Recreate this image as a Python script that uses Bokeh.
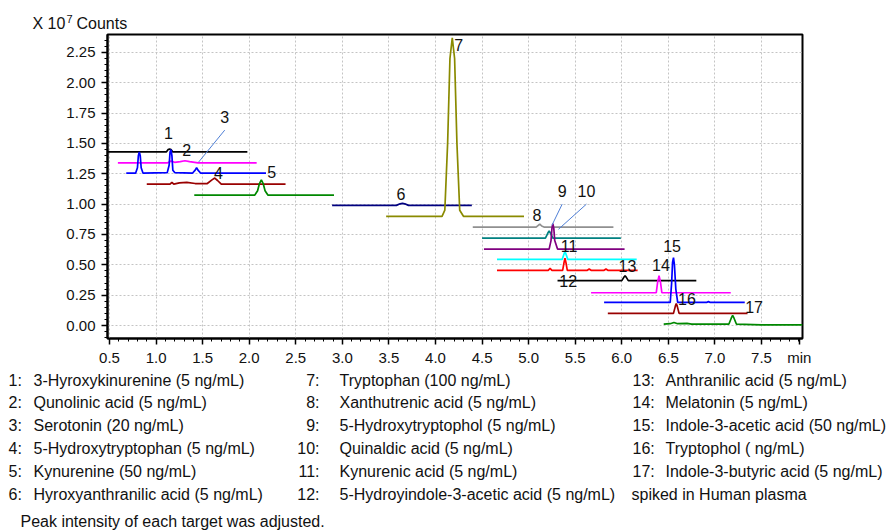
from bokeh.plotting import figure
from bokeh.models import (Range1d, SingleIntervalTicker, FixedTicker, PrintfTickFormatter,
                          ColumnDataSource)
from bokeh.embed import file_html
from bokeh.resources import INLINE
from bokeh.core.properties import value

# ---------------- data (retention time in min, intensity in x10^7 counts) ----------------
t1_x = [0.48, 1.11, 1.13, 1.145, 1.16, 1.18, 1.98]
t1_y = [1.43, 1.43, 1.45, 1.455, 1.45, 1.43, 1.43]

t2_x = [0.59, 1.12, 1.16, 1.20, 1.26, 1.31, 1.36, 1.45, 2.08]
t2_y = [1.34, 1.34, 1.355, 1.345, 1.35, 1.358, 1.35, 1.34, 1.34]

t3_x = [0.68, 0.78, 0.80, 0.81, 0.82, 0.83, 0.84, 0.86, 1.12, 1.14, 1.15, 1.16, 1.17,
        1.18, 1.20, 1.39, 1.42, 1.435, 1.45, 1.48, 2.18]
t3_y = [1.255, 1.255, 1.30, 1.40, 1.43, 1.40, 1.30, 1.255, 1.26, 1.32, 1.43, 1.45, 1.40,
        1.28, 1.26, 1.255, 1.28, 1.30, 1.28, 1.255, 1.255]

t4_x = [0.90, 1.15, 1.17, 1.19, 1.25, 1.33, 1.42, 1.55, 1.60, 1.63, 1.66, 1.70, 2.39]
t4_y = [1.165, 1.165, 1.18, 1.165, 1.175, 1.18, 1.17, 1.17, 1.20, 1.215, 1.195, 1.165, 1.165]

t5_x = [1.41, 2.06, 2.09, 2.11, 2.13, 2.15, 2.17, 2.20, 2.91]
t5_y = [1.075, 1.075, 1.11, 1.17, 1.20, 1.17, 1.11, 1.075, 1.075]

t6_x = [2.89, 3.58, 3.62, 3.645, 3.67, 3.71, 4.39]
t6_y = [0.99, 0.99, 1.003, 1.007, 1.003, 0.99, 0.99]

t7_x = [3.47, 4.07, 4.10, 4.13, 4.155, 4.18, 4.205, 4.23, 4.26, 4.30, 4.95]
t7_y = [0.90, 0.90, 0.95, 1.50, 2.20, 2.37, 2.20, 1.50, 0.95, 0.90, 0.90]

t8_x = [4.40, 5.08, 5.11, 5.12, 5.14, 5.17, 5.91]
t8_y = [0.81, 0.81, 0.83, 0.835, 0.82, 0.81, 0.81]

t9_x = [4.50, 5.18, 5.205, 5.22, 5.235, 5.26, 5.99]
t9_y = [0.72, 0.72, 0.76, 0.78, 0.76, 0.72, 0.72]

t10_x = [4.52, 5.22, 5.24, 5.25, 5.26, 5.27, 5.28, 5.31, 6.03]
t10_y = [0.63, 0.63, 0.70, 0.80, 0.84, 0.80, 0.70, 0.63, 0.63]

t11_x = [4.66, 5.36, 5.38, 5.39, 5.40, 5.42, 6.16]
t11_y = [0.545, 0.545, 0.59, 0.61, 0.59, 0.545, 0.545]

t12_x = [4.66, 5.21, 5.23, 5.25, 5.365, 5.38, 5.39, 5.40, 5.415, 5.63, 5.65, 5.67,
         5.81, 5.83, 5.85, 6.17]
t12_y = [0.455, 0.455, 0.47, 0.455, 0.455, 0.52, 0.555, 0.52, 0.455, 0.455, 0.465, 0.455,
         0.455, 0.465, 0.455, 0.455]

t13_x = [5.31, 6.00, 6.02, 6.035, 6.05, 6.07, 6.80]
t13_y = [0.37, 0.37, 0.395, 0.41, 0.395, 0.37, 0.37]

t14_x = [5.67, 6.37, 6.385, 6.40, 6.415, 6.43, 7.17]
t14_y = [0.27, 0.27, 0.36, 0.41, 0.36, 0.27, 0.27]

t15_x = [5.81, 6.52, 6.535, 6.545, 6.555, 6.565, 6.58, 6.60, 6.91, 6.93, 6.95, 7.32]
t15_y = [0.19, 0.19, 0.35, 0.52, 0.56, 0.50, 0.30, 0.19, 0.19, 0.197, 0.19, 0.19]

t16_x = [5.85, 6.555, 6.575, 6.585, 6.595, 6.615, 7.35]
t16_y = [0.10, 0.10, 0.16, 0.18, 0.16, 0.10, 0.10]

t17_x = [6.45, 6.52, 6.56, 6.60, 6.70, 6.75, 7.15, 7.175, 7.19, 7.205, 7.23, 7.50, 7.94]
t17_y = [0.012, 0.015, 0.025, 0.015, 0.018, 0.012, 0.012, 0.06, 0.083, 0.06, 0.012, 0.005, 0.005]

trace_xs = [t1_x, t2_x, t3_x, t4_x, t5_x, t6_x, t7_x, t8_x, t9_x, t10_x,
            t11_x, t12_x, t13_x, t14_x, t15_x, t16_x, t17_x]
trace_ys = [t1_y, t2_y, t3_y, t4_y, t5_y, t6_y, t7_y, t8_y, t9_y, t10_y,
            t11_y, t12_y, t13_y, t14_y, t15_y, t16_y, t17_y]
trace_colors = ["#000000", "#ff00ff", "#0000ff", "#990000", "#008800", "#000080",
                "#8a8a00", "#909090", "#008080", "#800080", "#00ffff", "#ff0000",
                "#000000", "#ff00ff", "#0000ff", "#990000", "#008800"]

peak_labels = [str(i) for i in range(1, 18)]
peak_label_x = [1.134, 1.33, 1.737, 1.67, 2.24, 3.63, 4.25, 5.09, 5.36, 5.62,
                5.435, 5.425, 6.06, 6.42, 6.54, 6.70, 7.42]
peak_label_y = [1.587, 1.446, 1.72, 1.256, 1.264, 1.083, 2.31, 0.91, 1.107, 1.107,
                0.653, 0.364, 0.49, 0.496, 0.653, 0.215, 0.149]

leader_x0 = [1.737, 5.36, 5.62]
leader_y0 = [1.61, 1.00, 1.00]
leader_x1 = [1.457, 5.25, 5.32]
leader_y1 = [1.347, 0.826, 0.793]

x_ticks = [0.5, 1.0, 1.5, 2.0, 2.5, 3.0, 3.5, 4.0, 4.5, 5.0, 5.5, 6.0, 6.5, 7.0, 7.5]
x_unit_pos = 7.906   # where the "min" unit text sits on the time axis
y_ticks_interval = 0.25

legend_col1_nums = ["1:", "2:", "3:", "4:", "5:", "6:"]
legend_col1_names = ["3-Hyroxykinurenine (5 ng/mL)", "Qunolinic acid (5 ng/mL)",
                     "Serotonin (20 ng/mL)", "5-Hydroxytryptophan (5 ng/mL)",
                     "Kynurenine (50 ng/mL)", "Hyroxyanthranilic acid (5 ng/mL)"]
legend_col2_nums = ["7:", "8:", "9:", "10:", "11:", "12:"]
legend_col2_names = ["Tryptophan (100 ng/mL)", "Xanthutrenic acid (5 ng/mL)",
                     "5-Hydroxytryptophol (5 ng/mL)", "Quinaldic acid (5 ng/mL)",
                     "Kynurenic acid (5 ng/mL)", "5-Hydroyindole-3-acetic acid (5 ng/mL)"]
legend_col3_nums = ["13:", "14:", "15:", "16:", "17:", ""]
legend_col3_names = ["Anthranilic acid (5 ng/mL)", "Melatonin (5 ng/mL)",
                     "Indole-3-acetic acid (50 ng/mL)", "Tryptophol ( ng/mL)",
                     "Indole-3-butyric acid (5 ng/mL)", "spiked in Human plasma"]
note_text = "Peak intensity of each target was adjusted."
y_unit_parts = ["X 10", "7", "Counts"]
x_unit_text = "min"

FONT = "Liberation Sans"
W = 886


def text_canvas(h, top):
    """A bare figure whose data coordinates equal page pixels (x right, y down)."""
    f = figure(width=W, height=h, x_range=Range1d(0, W), y_range=Range1d(top + h, top),
               output_backend="svg", toolbar_location=None, title=None,
               min_border_left=0, min_border_right=0, min_border_top=0, min_border_bottom=0)
    f.axis.visible = False
    f.grid.visible = False
    f.outline_line_color = None
    f.background_fill_color = "white"
    f.border_fill_color = "white"
    return f


# ---------------- head strip: "X 10^7 Counts" ----------------
HEAD_H = 32
h = text_canvas(HEAD_H, 0)
h.text(x=[32, 76], y=[23, 23], text=[y_unit_parts[0], y_unit_parts[2]],
       text_baseline="middle", text_align="left", text_font=value(FONT),
       text_font_size="16px", text_color="#111111")
h.text(x=[66], y=[18], text=[y_unit_parts[1]], text_baseline="middle", text_align="left",
       text_font=value(FONT), text_font_size="11px", text_color="#111111")

# ---------------- chart figure ----------------
X0, X1 = 0.4785, 7.94
Y0, Y1 = -0.107, 2.398
CH = 338   # chart spans page y 32..370; frame page y 34..338
p = figure(width=W, height=CH, title=None,
           x_range=Range1d(X0, X1), y_range=Range1d(Y0, Y1),
           output_backend="svg", toolbar_location=None,
           min_border_left=107, min_border_right=W - 802, min_border_top=2,
           min_border_bottom=CH - 306)
p.background_fill_color = "white"
p.border_fill_color = "white"
p.outline_line_color = "black"
p.outline_line_width = 2

x_minor = [round(0.5 + 0.1 * i, 1) for i in range(-1, 75) if i % 5 != 0]
p.xaxis.ticker = FixedTicker(ticks=x_ticks + [x_unit_pos], minor_ticks=x_minor)
p.xaxis.major_label_overrides = {x_unit_pos: x_unit_text}
yt = SingleIntervalTicker(interval=y_ticks_interval, num_minor_ticks=5)
p.yaxis.ticker = yt
p.xgrid.ticker = FixedTicker(ticks=x_ticks)
p.ygrid.ticker = yt
p.xaxis.formatter = PrintfTickFormatter(format="%.1f")
p.yaxis.formatter = PrintfTickFormatter(format="%.2f")
for ax in (p.xaxis, p.yaxis):
    ax.axis_line_width = 2
    ax.axis_line_color = "black"
    ax.major_tick_in = 0
    ax.major_tick_out = 6
    ax.minor_tick_in = 0
    ax.minor_tick_out = 3
    ax.major_tick_line_width = 1.5
    ax.minor_tick_line_width = 1
    ax.major_label_text_font = FONT
    ax.major_label_text_font_size = "15px"
    ax.major_label_text_color = "#111111"
p.xaxis.major_label_standoff = 4
p.yaxis.major_label_standoff = 6

for g in (p.xgrid, p.ygrid):
    g.grid_line_color = "#c4c4c4"
    g.grid_line_dash = "2 2"
    g.grid_line_width = 1

for xs, ys, c in zip(trace_xs, trace_ys, trace_colors):
    p.line(xs, ys, line_color=c, line_width=1.7)

p.segment(x0=leader_x0, y0=leader_y0, x1=leader_x1, y1=leader_y1,
          line_color="#4f7fd6", line_width=1)

lab_src = ColumnDataSource(dict(x=peak_label_x, y=peak_label_y, t=peak_labels))
p.text(x="x", y="y", text="t", source=lab_src, text_align="center", text_baseline="middle",
       text_font=value(FONT), text_font_size="16px", text_color="#111111")

# ---------------- legend block below the chart ----------------
LTOP = HEAD_H + CH
q = text_canvas(530 - LTOP, LTOP)

row_y = [380, 402, 425, 448, 471, 494]
lx, ly, lt, la = [], [], [], []
for i, yy in enumerate(row_y):
    lx += [8, 33, 319, 339]
    ly += [yy] * 4
    lt += [legend_col1_nums[i], legend_col1_names[i], legend_col2_nums[i], legend_col2_names[i]]
    la += ["left", "left", "right", "left"]
    if legend_col3_nums[i]:
        lx += [632, 665]
        ly += [yy, yy]
        lt += [legend_col3_nums[i], legend_col3_names[i]]
        la += ["left", "left"]
    else:
        lx += [631]
        ly += [yy]
        lt += [legend_col3_names[i]]
        la += ["left"]
lx.append(20)
ly.append(521)
lt.append(note_text)
la.append("left")

leg_src = ColumnDataSource(dict(x=lx, y=ly, t=lt, a=la))
q.text(x="x", y="y", text="t", text_align="a", source=leg_src, text_baseline="middle",
       text_font=value(FONT), text_font_size="16px", text_color="#111111")

open("out.html", "w").write(file_html([h, p, q], INLINE))
